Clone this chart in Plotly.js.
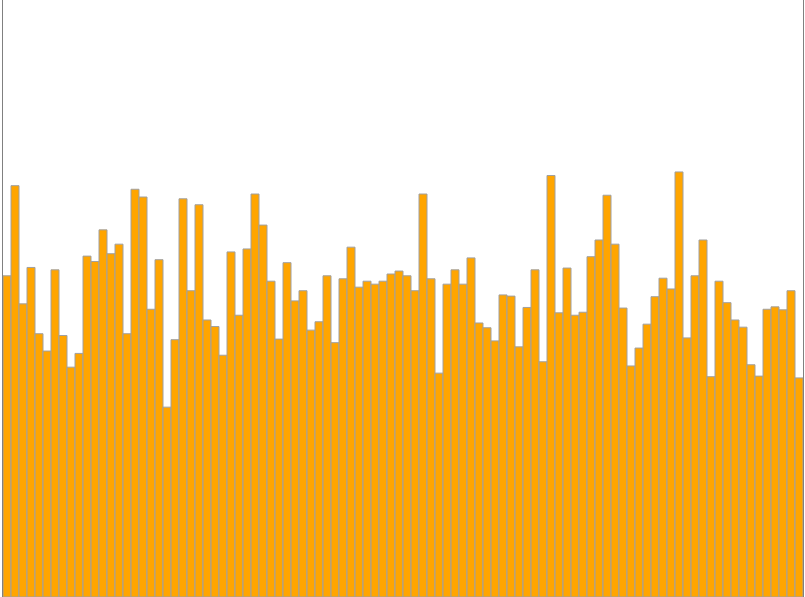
<!DOCTYPE html>
<html>
<head>
<meta charset="utf-8">
<script src="https://cdn.plot.ly/plotly-3.0.1.min.js"></script>
<style>html,body{margin:0;padding:0;background:#fff;}#chart{width:805px;height:597px;}</style>
</head>
<body>
<div id="chart"></div>
<script>
// Bar heights (index 0..99)
const categories = Array.from({length: 100}, (_, i) => i);
const values = [
  53.8, 68.9, 49.1, 55.2, 44.1, 41.2, 54.8, 43.8, 38.5, 40.8,
  57.1, 56.2, 61.5, 57.5, 59.1, 44.1, 68.3, 67.0, 48.2, 56.5,
  31.8, 43.1, 66.7, 51.3, 65.7, 46.4, 45.3, 40.5, 57.8, 47.2,
  58.3, 67.5, 62.3, 52.9, 43.2, 56.0, 49.6, 51.3, 44.7, 46.1,
  53.8, 42.6, 53.3, 58.6, 51.9, 52.9, 52.4, 52.9, 54.1, 54.6,
  53.8, 51.3, 67.5, 53.3, 37.5, 52.4, 54.8, 52.4, 56.8, 45.9,
  45.1, 42.9, 50.6, 50.4, 41.9, 48.5, 54.8, 39.4, 70.6, 47.6,
  55.1, 47.2, 47.7, 57.0, 59.8, 67.3, 59.1, 48.4, 38.7, 41.7,
  45.7, 50.3, 53.4, 51.6, 71.2, 43.4, 53.8, 59.8, 36.9, 52.9,
  49.3, 46.4, 45.2, 38.9, 37.0, 48.2, 48.6, 48.1, 51.3, 36.7
];

const trace = {
  type: 'bar',
  x: categories,
  y: values,
  marker: {color: '#FFA500', line: {color: '#a0a0a0', width: 1}},
  hoverinfo: 'none'
};

const layout = {
  width: 805,
  height: 597,
  margin: {l: 3, r: 2, t: 0, b: 0, pad: 0},
  paper_bgcolor: '#ffffff',
  plot_bgcolor: '#ffffff',
  bargap: 0,
  showlegend: false,
  xaxis: {range: [-0.5, 99.5], showgrid: false, zeroline: false, showticklabels: false, ticks: '', showline: false},
  yaxis: {range: [0, 100], showgrid: false, zeroline: false, showticklabels: false, ticks: '',
          showline: true, mirror: true, linecolor: '#808080', linewidth: 1}
};

Plotly.newPlot('chart', [trace], layout, {displayModeBar: false, staticPlot: true});
</script>
</body>
</html>
